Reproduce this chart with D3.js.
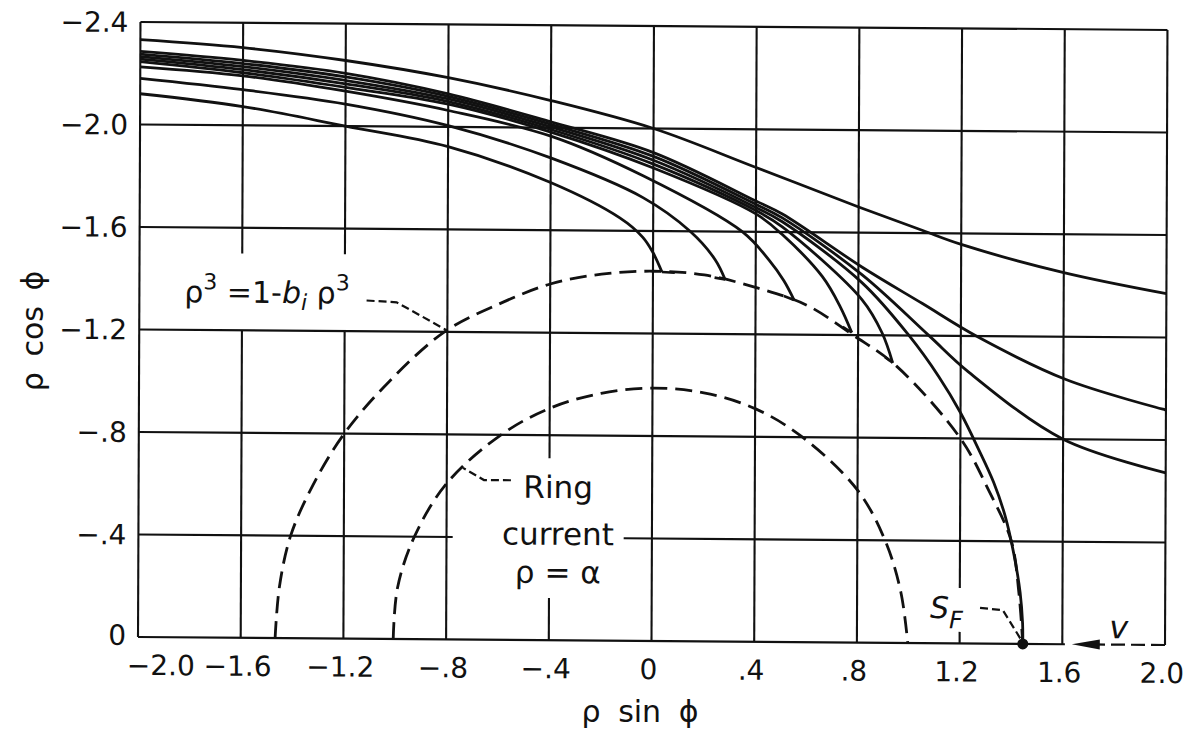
<!DOCTYPE html>
<html>
<head>
<meta charset="utf-8">
<script src="https://cdn.jsdelivr.net/npm/d3@7"></script>
<style>
body { margin: 0; background: #fff; }
svg { display: block; font-family: "DejaVu Sans", sans-serif; }
</style>
</head>
<body>
<svg id="chart" width="1194" height="735"></svg>
<script>
// axes
const xTicks = [-2.0, -1.6, -1.2, -0.8, -0.4, 0, 0.4, 0.8, 1.2, 1.6, 2.0];
const xTickLabels = ["−2.0", "−1.6", "−1.2", "−.8", "−.4", "0", ".4", ".8", "1.2", "1.6", "2.0"];
const yTicks = [0, -0.4, -0.8, -1.2, -1.6, -2.0, -2.4];
const yTickLabels = ["0", "−.4", "−.8", "−1.2", "−1.6", "−2.0", "−2.4"];

// trajectories (rho sin phi, rho cos phi)
const curveA = [[-2.0,-2.331],[-1.6,-2.303],[-1.2,-2.256],[-0.8,-2.192],[-0.4,-2.106],[0,-2.0],[0.4,-1.851],[0.8,-1.70],[1.05,-1.61],[1.2,-1.557],[1.6,-1.45],[2.0,-1.371]];
const curveRight2 = [[-2.0,-2.285],[-1.6,-2.253],[-1.2,-2.206],[-0.8,-2.129],[-0.4,-2.023],[0,-1.906],[0.4,-1.72],[0.503,-1.67],[0.815,-1.465],[1.05,-1.325],[1.26,-1.2],[1.61,-1.033],[2.0,-0.917]];
const curveRight3 = [[-2.0,-2.275],[-1.6,-2.241],[-1.2,-2.192],[-0.8,-2.119],[-0.4,-2.013],[0,-1.891],[0.4,-1.707],[0.503,-1.655],[0.815,-1.435],[1.076,-1.2],[1.23,-1.06],[1.6,-0.8],[2.0,-0.672]];
const curveSF = [[-2.0,-2.265],[-1.6,-2.229],[-1.2,-2.178],[-0.8,-2.109],[-0.4,-2.003],[0,-1.876],[0.4,-1.695],[0.503,-1.64],[0.815,-1.404],[0.998,-1.2],[1.115,-1.04],[1.2,-0.9],[1.27,-0.76],[1.33,-0.63],[1.375,-0.5],[1.41,-0.35],[1.435,-0.2],[1.445,-0.08],[1.446,0]];
const curveCusp5 = [[-2.0,-2.255],[-1.6,-2.217],[-1.2,-2.165],[-0.8,-2.099],[-0.4,-1.993],[0,-1.861],[0.4,-1.683],[0.503,-1.62],[0.815,-1.338],[0.893,-1.21],[0.935,-1.093]];
const curveCusp4 = [[-2.0,-2.245],[-1.6,-2.205],[-1.2,-2.151],[-0.8,-2.089],[-0.4,-1.983],[0,-1.846],[0.4,-1.67],[0.503,-1.59],[0.66,-1.427],[0.73,-1.31],[0.775,-1.21]];
const curveCusp3 = [[-2.0,-2.225],[-1.6,-2.193],[-1.2,-2.136],[-0.8,-2.064],[-0.4,-1.967],[-0.04,-1.815],[0.347,-1.6],[0.452,-1.49],[0.51,-1.41],[0.55,-1.335]];
const curveCusp2 = [[-2.0,-2.18],[-1.6,-2.139],[-1.2,-2.086],[-0.8,-2.005],[-0.4,-1.882],[-0.04,-1.73],[0.144,-1.6],[0.242,-1.49],[0.281,-1.413]];
const curveCusp1 = [[-2.0,-2.12],[-1.6,-2.073],[-1.2,-2.0],[-0.8,-1.923],[-0.4,-1.786],[-0.13,-1.65],[-0.04,-1.575],[0.0,-1.515],[0.035,-1.44]];
// short return strokes at the cusps
const cuspHooks = [[[0.035,-1.44],[0.085,-1.438]],[[0.281,-1.413],[0.24,-1.42]],[[0.55,-1.335],[0.51,-1.35]],[[0.775,-1.21],[0.74,-1.232]],[[0.935,-1.093],[0.905,-1.115]]];

// dashed boundaries
const outerBoundary = [[-1.466,0],[-1.45,-0.2],[-1.407,-0.4],[-1.32,-0.6],[-1.2,-0.8],[-1.03,-1.0],[-0.811,-1.2],[-0.6,-1.31],[-0.4,-1.39],[-0.2,-1.43],[0,-1.443],[0.2,-1.43],[0.41,-1.38],[0.6,-1.315],[0.78,-1.2],[0.95,-1.08],[1.2,-0.8],[1.31,-0.6],[1.40,-0.4],[1.43,-0.2],[1.446,0]];
const ringCurrent = [[-1.006,0],[-0.99,-0.2],[-0.925,-0.4],[-0.8,-0.609],[-0.589,-0.8],[-0.4,-0.905],[-0.2,-0.965],[0,-0.987],[0.2,-0.97],[0.4,-0.91],[0.585,-0.8],[0.8,-0.595],[0.908,-0.4],[0.97,-0.2],[0.998,0]];

// annotation leaders
const rhoLeader = [[-1.115,-1.32],[-0.998,-1.314],[-0.8,-1.205]];
const ringLeader = [[-0.55,-0.623],[-0.655,-0.623],[-0.737,-0.67]];
const sfLeader = [[1.279,-0.139],[1.368,-0.131],[1.437,-0.02]];
const sfPoint = [1.446, 0];
const vArrow = [[2.0,0],[1.72,0]];
const vArrowTip = 1.637;

// grid interruptions where labels sit: [position, from, to]
const vGridBreaks = [[-1.6,-1.5,-1.2],[-1.2,-1.5,-1.2],[-0.4,-0.71,-0.165],[1.2,-0.216,-0.045]];
const hGridBreaks = [[-0.4,-0.776,-0.11],[0,1.61,2.0]];

const svg = d3.select("#chart");
const x = d3.scaleLinear().domain([-2, 2]).range([138, 1165]);
const y = d3.scaleLinear().domain([0, -2.4]).range([637, 22]);

// the scan is slightly sheared
const k = 0.0078, c = -0.004;
const g = svg.append("g")
    .attr("transform", "matrix(1," + k + "," + c + ",1," + (-c * 637) + "," + (-k * 139) + ")");

function pieces(pos, lo, hi, breaks) {
    let out = [[lo, hi]];
    breaks.filter(b => b[0] == pos).forEach(b => {
        const a0 = Math.min(b[1], b[2]), a1 = Math.max(b[1], b[2]);
        let next = [];
        out.forEach(s => {
            const s0 = Math.min(s[0], s[1]), s1 = Math.max(s[0], s[1]);
            if (a1 <= s0 || a0 >= s1) { next.push([s0, s1]); return; }
            if (a0 > s0) next.push([s0, a0]);
            if (a1 < s1) next.push([a1, s1]);
        });
        out = next;
    });
    return out;
}

// grid
xTicks.forEach(t => {
    pieces(t, -2.4, 0, vGridBreaks).forEach(s => {
        g.append("line")
            .attr("x1", x(t)).attr("x2", x(t))
            .attr("y1", y(s[0])).attr("y2", y(s[1]))
            .attr("stroke", "#111").attr("stroke-width", 2.1);
    });
});
yTicks.forEach(t => {
    pieces(t, -2, 2, hGridBreaks).forEach(s => {
        g.append("line")
            .attr("x1", x(s[0])).attr("x2", x(s[1]))
            .attr("y1", y(t)).attr("y2", y(t))
            .attr("stroke", "#111").attr("stroke-width", 2.1);
    });
});

// tick labels
g.selectAll(".ytl").data(yTicks).enter().append("text")
    .attr("x", x(-2) - 12)
    .attr("y", d => y(d) + (d == 0 ? -2 : 0))
    .attr("dy", "0.36em")
    .attr("text-anchor", "end")
    .attr("font-size", 28)
    .attr("fill", "#111")
    .text((d, i) => yTickLabels[i]);

g.selectAll(".xtl").data(xTicks).enter().append("text")
    .attr("x", (d, i) => i == 0 ? x(d) - 11 : x(d) - 3)
    .attr("y", y(0) + 38)
    .attr("text-anchor", (d, i) => i == 0 ? "start" : "middle")
    .attr("font-size", 28)
    .attr("fill", "#111")
    .text((d, i) => xTickLabels[i]);

// axis titles
svg.append("text")
    .attr("x", 640).attr("y", 722)
    .attr("text-anchor", "middle")
    .attr("font-size", 30)
    .attr("word-spacing", 8)
    .attr("fill", "#111")
    .text("ρ sin ϕ");
svg.append("text")
    .attr("transform", "translate(43,331) rotate(-90)")
    .attr("text-anchor", "middle")
    .attr("font-size", 30)
    .attr("word-spacing", 6)
    .attr("fill", "#111")
    .text("ρ cos ϕ");

const smooth = d3.line()
    .x(d => x(d[0]))
    .y(d => y(d[1]))
    .curve(d3.curveCatmullRom.alpha(0.5));
const straight = d3.line()
    .x(d => x(d[0]))
    .y(d => y(d[1]));

// dashed boundaries
[outerBoundary, ringCurrent].forEach(pts => {
    g.append("path")
        .attr("d", smooth(pts))
        .attr("fill", "none")
        .attr("stroke", "#111")
        .attr("stroke-width", 2.8)
        .attr("stroke-dasharray", "17,8");
});

// trajectories
const trajectories = [curveA, curveRight2, curveRight3, curveSF, curveCusp5, curveCusp4, curveCusp3, curveCusp2, curveCusp1];
trajectories.forEach(pts => {
    g.append("path")
        .attr("d", smooth(pts))
        .attr("fill", "none")
        .attr("stroke", "#111")
        .attr("stroke-width", 2.8)
        .attr("stroke-linejoin", "round");
});
cuspHooks.forEach(pts => {
    g.append("path")
        .attr("d", straight(pts))
        .attr("fill", "none")
        .attr("stroke", "#111")
        .attr("stroke-width", 2.6);
});

// leaders
[rhoLeader, ringLeader, sfLeader].forEach(pts => {
    g.append("path")
        .attr("d", straight(pts))
        .attr("fill", "none")
        .attr("stroke", "#111")
        .attr("stroke-width", 2.2)
        .attr("stroke-dasharray", "8,4");
});

// S_F point
g.append("circle")
    .attr("cx", x(sfPoint[0])).attr("cy", y(sfPoint[1]))
    .attr("r", 5.5).attr("fill", "#111");

// v arrow
g.append("path")
    .attr("d", straight(vArrow))
    .attr("fill", "none")
    .attr("stroke", "#111")
    .attr("stroke-width", 2.2)
    .attr("stroke-dasharray", "14,6");
const tipX = x(vArrowTip), tipY = y(0);
g.append("path")
    .attr("d", "M" + tipX + "," + tipY + "L" + (tipX + 28) + "," + (tipY - 5) + "L" + (tipX + 28) + "," + (tipY + 5) + "Z")
    .attr("fill", "#111");

// labels
const rhoLabel = g.append("text")
    .attr("x", x(-1.825)).attr("y", y(-1.308))
    .attr("font-size", 30).attr("fill", "#111");
rhoLabel.append("tspan").text("ρ");
rhoLabel.append("tspan").attr("dy", -13).attr("font-size", 22).text("3");
rhoLabel.append("tspan").attr("dy", 13).text(" =1-");
rhoLabel.append("tspan").attr("font-style", "italic").text("b");
rhoLabel.append("tspan").attr("dy", 7).attr("font-size", 22).attr("font-style", "italic").text("i");
rhoLabel.append("tspan").attr("dy", -7).text(" ρ");
rhoLabel.append("tspan").attr("dy", -13).attr("font-size", 22).text("3");

const ringLines = ["Ring", "current", "ρ = α"];
const ringBaselines = [-0.555, -0.372, -0.223];
ringLines.forEach((t, i) => {
    g.append("text")
        .attr("x", x(-0.366)).attr("y", y(ringBaselines[i]))
        .attr("text-anchor", "middle")
        .attr("font-size", 31)
        .attr("fill", "#111")
        .text(t);
});

const sfLabel = g.append("text")
    .attr("x", x(1.084)).attr("y", y(-0.098))
    .attr("font-size", 30).attr("font-style", "italic").attr("fill", "#111");
sfLabel.append("tspan").text("S");
sfLabel.append("tspan").attr("dy", 10).attr("font-size", 24).text("F");

g.append("text")
    .attr("x", x(1.82)).attr("y", y(-0.025))
    .attr("text-anchor", "middle")
    .attr("font-size", 32).attr("font-style", "italic").attr("fill", "#111")
    .text("v");
</script>
</body>
</html>
